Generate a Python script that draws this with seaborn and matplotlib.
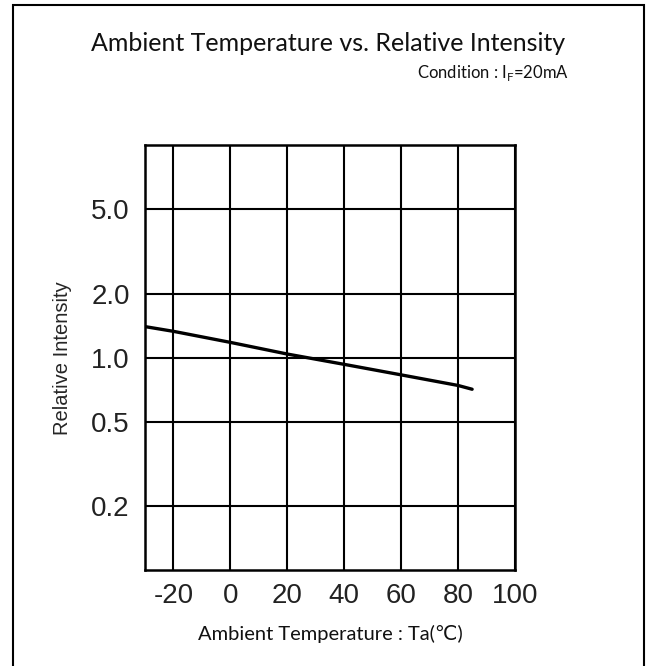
import matplotlib
matplotlib.use("Agg")
import matplotlib.pyplot as plt
import matplotlib.patches as patches
import seaborn as sns
import pandas as pd

# --- DATA ---
temperature = [-30, -20, 0, 20, 40, 60, 80, 85]
relative_intensity = [1.40, 1.33, 1.18, 1.04, 0.93, 0.83, 0.74, 0.71]

x_ticks = [-20, 0, 20, 40, 60, 80, 100]
y_ticks = [0.2, 0.5, 1.0, 2.0, 5.0]
y_tick_labels = ["0.2", "0.5", "1.0", "2.0", "5.0"]

df = pd.DataFrame({"Ta": temperature, "Intensity": relative_intensity})

# --- FIGURE ---
sns.set_style("white")
plt.rcParams['font.family'] = ['Liberation Sans', 'DejaVu Sans']
plt.rcParams['axes.unicode_minus'] = False

fig = plt.figure(figsize=(6.5, 6.66), dpi=100)
ax = fig.add_axes([0.223, 0.144, 0.569, 0.638])

sns.lineplot(data=df, x="Ta", y="Intensity", ax=ax, color="black", linewidth=2.4)

ax.set_yscale("log")
ax.set_xlim(-30, 100)
ax.set_ylim(0.1, 10)
ax.set_xticks(x_ticks)
ax.set_yticks(y_ticks)
ax.set_yticklabels(y_tick_labels)
ax.minorticks_off()
ax.tick_params(length=0, labelsize=20, labelcolor="#222222")
ax.tick_params(axis="x", pad=9)
ax.tick_params(axis="y", pad=11)

# grid lines
ax.grid(True, color="black", linewidth=1.5)
for s in ax.spines.values():
    s.set_color("black")
    s.set_linewidth(1.8)

ax.set_xlabel("Ambient Temperature : Ta(℃)", fontsize=14.5, labelpad=12,
              family=['Lato', 'DejaVu Sans'], color="#111111")
ax.set_ylabel("Relative Intensity", fontsize=14.5, labelpad=14,
              family=['Liberation Sans', 'DejaVu Sans'])

# --- TITLES ---
fig.text(0.505, 0.935, "Ambient Temperature vs. Relative Intensity",
         ha="center", va="center", fontsize=18, family="Lato", color="#111111")
fig.text(0.875, 0.891, "Condition : I$_\\mathregular{F}$=20mA",
         ha="right", va="center", fontsize=12, family="Lato", color="#111111")

# --- OUTER FRAME ---
frame = patches.Rectangle((13 / 650, -0.05), (644 - 13) / 650, 1.05 - 5 / 666,
                          transform=fig.transFigure, fill=False,
                          edgecolor="black", linewidth=1.5)
fig.patches.append(frame)

fig.savefig("out.png", dpi=100)
plt.close()
